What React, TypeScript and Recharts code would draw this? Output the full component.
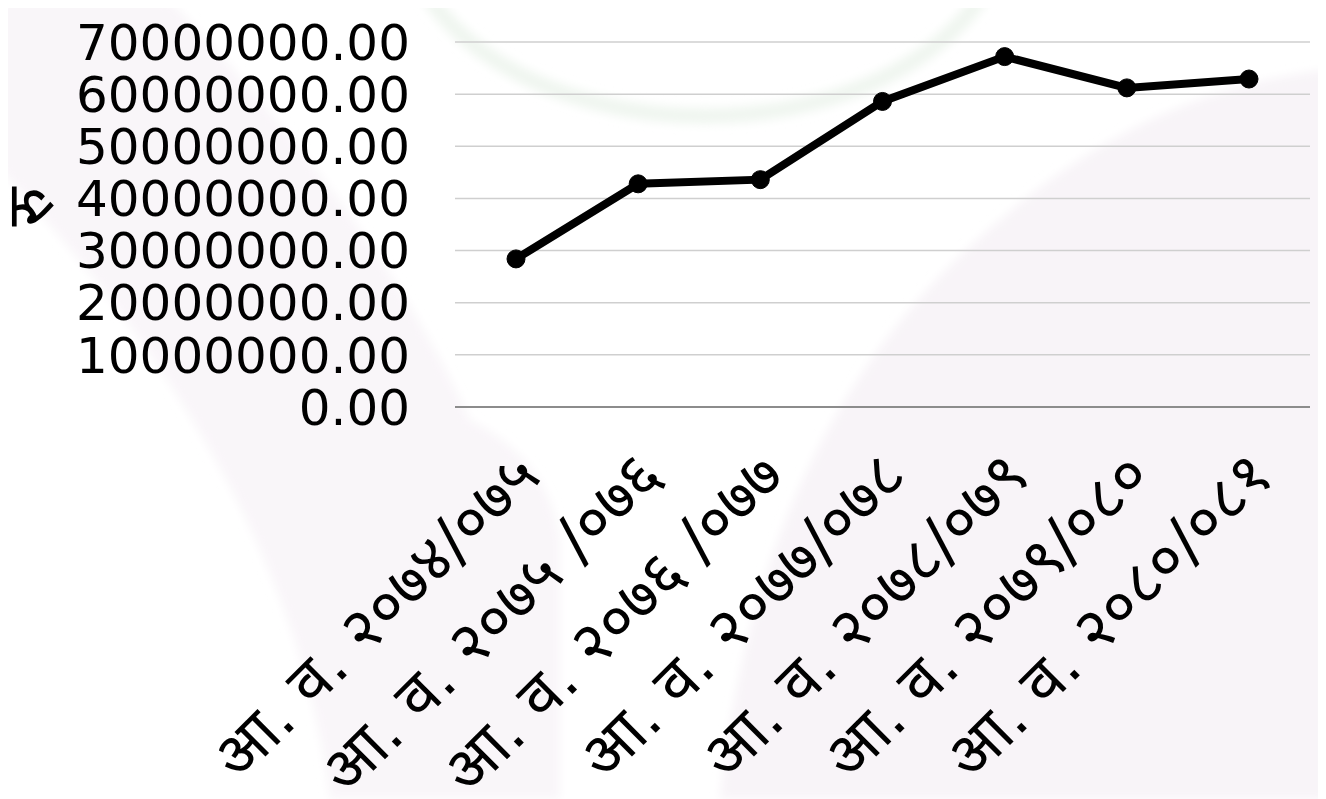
import * as React from "react";
import { CartesianGrid, Line, LineChart, XAxis, YAxis } from "recharts";

const YEARS = [
  "आ. व. २०७४/०७५",
  "आ. व. २०७५ /०७६",
  "आ. व. २०७६ /०७७",
  "आ. व. २०७७/०७८",
  "आ. व. २०७८/०७९",
  "आ. व. २०७९/०८०",
  "आ. व. २०८०/०८१",
];

const AMOUNTS = [28400000, 42800000, 43600000, 58600000, 67200000, 61200000, 62900000];

const Y_TICKS = [0, 10000000, 20000000, 30000000, 40000000, 50000000, 60000000, 70000000];

const FONT = "'DejaVu Sans', 'Noto Sans Devanagari', 'Noto Sans', sans-serif";

const data = YEARS.map((year, i) => ({ year, amount: AMOUNTS[i] }));

function YearTick(props: any) {
  const { x, y, payload } = props;
  return (
    <g transform={`translate(${x},${y})`}>
      <text
        x={27}
        y={64}
        textAnchor="end"
        transform="rotate(-45, 27, 64)"
        fontSize={63}
        fontFamily={FONT}
        fill="#000"
      >
        {payload.value}
      </text>
    </g>
  );
}

// faint background watermark behind the chart
function Watermark() {
  return (
    <svg
      width={1326}
      height={799}
      style={{ position: "absolute", left: -8, top: -8 }}
    >
      <defs>
        <filter id="soft">
          <feGaussianBlur stdDeviation={5} />
        </filter>
      </defs>
      <g filter="url(#soft)">
        <path
          d="M0,0 L170,0 Q380,220 470,420 Q550,460 560,540 L560,799 L330,799 Q290,480 0,170 Z"
          fill="#f9f6f9"
        />
        <path d="M720,799 Q760,420 1000,220 Q1150,90 1326,70 L1326,799 Z" fill="#f8f4f8" />
        <ellipse cx={705} cy={-80} rx={300} ry={196} fill="none" stroke="#f0f6f0" strokeWidth={16} />
      </g>
    </svg>
  );
}

export default function App() {
  return (
    <div style={{ position: "relative", width: 1318, height: 791 }}>
      <Watermark />
      <LineChart
        width={1318}
        height={791}
        data={data}
        margin={{ top: 34, right: 16, left: 0, bottom: 0 }}
        style={{ position: "relative" }}
      >
        <CartesianGrid vertical={false} stroke="#cfcfcf" strokeWidth={1.5} />
        <XAxis
          dataKey="year"
          interval={0}
          height={392}
          padding={{ left: 61, right: 61 }}
          tickLine={false}
          axisLine={{ stroke: "#8c8c8c", strokeWidth: 2 }}
          tick={<YearTick />}
        />
        <YAxis
          width={447}
          domain={[0, 70000000]}
          ticks={Y_TICKS}
          interval={0}
          axisLine={false}
          tickLine={false}
          tickSize={0}
          tickMargin={45}
          tickFormatter={(v: number) => v.toFixed(2)}
          tick={{ fontSize: 50, fill: "#000", fontFamily: FONT }}
          label={{
            value: "रु",
            angle: -90,
            position: "insideLeft",
            offset: 22,
            dy: 2,
            style: { fontSize: 66, fill: "#000", fontFamily: FONT },
          }}
        />
        <Line
          type="linear"
          dataKey="amount"
          stroke="#000"
          strokeWidth={8}
          dot={{ r: 9, fill: "#000", stroke: "#000", strokeWidth: 1 }}
          isAnimationActive={false}
        />
      </LineChart>
    </div>
  );
}
